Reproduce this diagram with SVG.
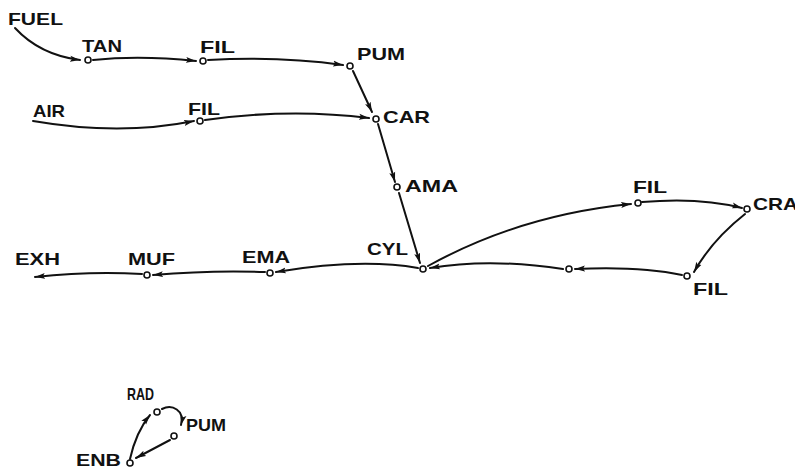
<svg xmlns="http://www.w3.org/2000/svg" width="795" height="474" viewBox="0 0 795 474">
<style>
  text { font-family: "Liberation Sans", Arial, sans-serif; font-size: 17px; font-weight: bold; fill: #111; }
  .n { fill: #fff; stroke: #111; stroke-width: 1.6; }
  .c { fill: none; stroke: #111; stroke-width: 2; stroke-linecap: round; marker-end: url(#ah); }
</style>
<defs>
  <marker id="ah" markerUnits="userSpaceOnUse" markerWidth="11" markerHeight="7" refX="10" refY="3.5" orient="auto">
    <path d="M0,0.5 L10,3.5 L0,6.5 L2,3.5 z" fill="#111"/>
  </marker>
</defs>
<rect width="795" height="474" fill="#fff"/>
<g id="connectors">
  <path class="c" d="M15,28 Q40,55 80,60"/>
  <path class="c" d="M93,60 Q140,55 196,61"/>
  <path class="c" d="M208,60 Q280,56 343,65"/>
  <path class="c" d="M353,71 L372,112"/>
  <path class="c" d="M33,121 Q120,136 194,121"/>
  <path class="c" d="M205,120 Q290,108 369,118"/>
  <path class="c" d="M378,124 L395,182"/>
  <path class="c" d="M399,193 L420,263"/>
  <path class="c" d="M428,266 Q520,215 631,204"/>
  <path class="c" d="M642,202 Q700,197 742,208"/>
  <path class="c" d="M745,214 Q712,240 694,272"/>
  <path class="c" d="M682,275 Q640,266 575,269"/>
  <path class="c" d="M563,269 Q490,258 430,268"/>
  <path class="c" d="M418,268 Q360,258 276,272"/>
  <path class="c" d="M265,272 Q210,270 153,275"/>
  <path class="c" d="M142,274 Q90,271 35,277"/>
  <path class="c" d="M162,409 C172,404 185,410 181,425"/>
  <path class="c" d="M170,440 Q155,448 136,458"/>
  <path class="c" d="M130,459 Q136,432 150,415"/>
</g>
<g id="FUEL"><text x="8" y="25" textLength="55" lengthAdjust="spacingAndGlyphs">FUEL</text></g>
<g id="TAN"><circle class="n" cx="88" cy="60" r="3"/><text x="82" y="52" textLength="40" lengthAdjust="spacingAndGlyphs">TAN</text></g>
<g id="FIL1"><circle class="n" cx="203" cy="61" r="3"/><text x="200" y="53" textLength="35" lengthAdjust="spacingAndGlyphs">FIL</text></g>
<g id="PUM1"><circle class="n" cx="350" cy="66" r="3"/><text x="357" y="60" textLength="48" lengthAdjust="spacingAndGlyphs">PUM</text></g>
<g id="AIR"><text x="33" y="117" textLength="32" lengthAdjust="spacingAndGlyphs">AIR</text></g>
<g id="FIL2"><circle class="n" cx="200" cy="121" r="3"/><text x="188" y="115" textLength="32" lengthAdjust="spacingAndGlyphs">FIL</text></g>
<g id="CAR"><circle class="n" cx="376" cy="119" r="3"/><text x="383" y="123" textLength="47" lengthAdjust="spacingAndGlyphs">CAR</text></g>
<g id="AMA"><circle class="n" cx="397" cy="187" r="3"/><text x="405" y="192" textLength="53" lengthAdjust="spacingAndGlyphs">AMA</text></g>
<g id="CYL"><circle class="n" cx="423" cy="269" r="3"/><text x="367" y="255" textLength="41" lengthAdjust="spacingAndGlyphs">CYL</text></g>
<g id="EMA"><circle class="n" cx="270" cy="273" r="3"/><text x="242" y="263" textLength="48" lengthAdjust="spacingAndGlyphs">EMA</text></g>
<g id="MUF"><circle class="n" cx="147" cy="275" r="3"/><text x="128" y="265" textLength="47" lengthAdjust="spacingAndGlyphs">MUF</text></g>
<g id="EXH"><text x="15" y="265" textLength="45" lengthAdjust="spacingAndGlyphs">EXH</text></g>
<g id="FIL3"><circle class="n" cx="638" cy="203" r="3"/><text x="633" y="193" textLength="34" lengthAdjust="spacingAndGlyphs">FIL</text></g>
<g id="CRA"><circle class="n" cx="747" cy="209" r="3"/><text x="753" y="210" textLength="45" lengthAdjust="spacingAndGlyphs">CRA</text></g>
<g id="FIL4"><circle class="n" cx="687" cy="276" r="3"/><text x="693" y="295" textLength="35" lengthAdjust="spacingAndGlyphs">FIL</text></g>
<g id="N1"><circle class="n" cx="569" cy="269" r="3"/></g>
<g id="RAD"><circle class="n" cx="157" cy="412" r="3"/><text x="127" y="400" textLength="27" lengthAdjust="spacingAndGlyphs">RAD</text></g>
<g id="PUM2"><circle class="n" cx="174" cy="436" r="3"/><text x="186" y="431" textLength="40" lengthAdjust="spacingAndGlyphs">PUM</text></g>
<g id="ENB"><circle class="n" cx="130" cy="463" r="3"/><text x="76" y="466" textLength="45" lengthAdjust="spacingAndGlyphs">ENB</text></g>
</svg>
